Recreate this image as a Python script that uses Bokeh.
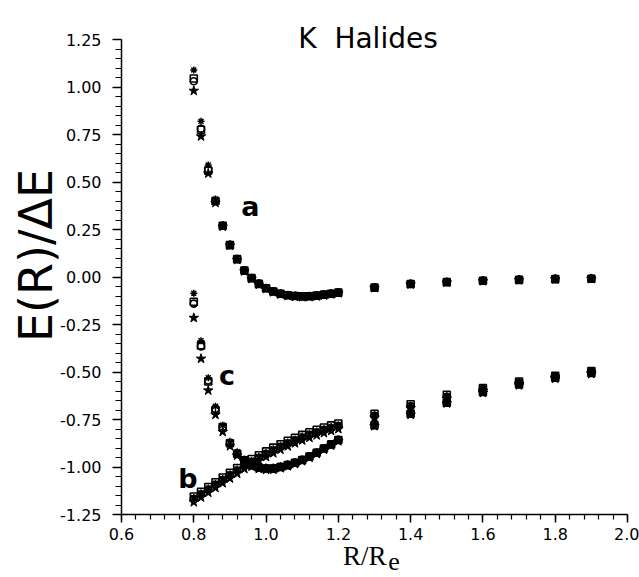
import math
from bokeh.plotting import figure
from bokeh.models import Range1d, FixedTicker, NumeralTickFormatter, Label
from bokeh.embed import file_html
from bokeh.resources import INLINE

# ---------------- data ----------------
x_dense = [0.80, 0.82, 0.84, 0.86, 0.88, 0.90, 0.92, 0.94, 0.96, 0.98, 1.00,
           1.02, 1.04, 1.06, 1.08, 1.10, 1.12, 1.14, 1.16, 1.18, 1.20]
x_far = [1.3, 1.4, 1.5, 1.6, 1.7, 1.8, 1.9]
x_all = x_dense + x_far

# curve a
a_ast = [1.09, 0.82, 0.59, 0.41, 0.275, 0.172, 0.098, 0.037, -0.003, -0.033, -0.056,
         -0.073, -0.085, -0.093, -0.097, -0.099, -0.098, -0.095, -0.090, -0.085, -0.079,
         -0.053, -0.034, -0.024, -0.017, -0.012, -0.009, -0.007]
a_sq = [1.045, 0.775, 0.56, 0.40, 0.27, 0.168, 0.094, 0.034, -0.006, -0.036, -0.059,
        -0.076, -0.088, -0.096, -0.100, -0.102, -0.101, -0.098, -0.093, -0.088, -0.082,
        -0.056, -0.037, -0.027, -0.020, -0.015, -0.011, -0.009]
a_ci = [1.03, 0.78, 0.565, 0.40, 0.27, 0.17, 0.095, 0.035, -0.005, -0.035, -0.058,
        -0.075, -0.087, -0.095, -0.099, -0.101, -0.100, -0.097, -0.092, -0.087, -0.081,
        -0.055, -0.036, -0.026, -0.019, -0.014, -0.010, -0.008]
a_st = [0.98, 0.74, 0.545, 0.39, 0.265, 0.165, 0.090, 0.030, -0.010, -0.040, -0.063,
        -0.080, -0.092, -0.100, -0.104, -0.106, -0.105, -0.102, -0.097, -0.091, -0.085,
        -0.058, -0.039, -0.029, -0.022, -0.016, -0.012, -0.010]

# curve c
c_ast = [-0.085, -0.335, -0.53, -0.68, -0.78, -0.865, -0.92, -0.958, -0.982, -0.995, -1.0,
         -1.0, -0.993, -0.983, -0.972, -0.958, -0.94, -0.92, -0.898, -0.876, -0.853,
         -0.77, -0.71, -0.655, -0.60, -0.56, -0.525, -0.50]
c_sq = [-0.13, -0.36, -0.55, -0.70, -0.79, -0.875, -0.93, -0.965, -0.99, -1.003, -1.008,
        -1.008, -1.0, -0.99, -0.978, -0.963, -0.945, -0.925, -0.903, -0.881, -0.858,
        -0.78, -0.72, -0.662, -0.605, -0.565, -0.53, -0.505]
c_ci = [-0.14, -0.365, -0.545, -0.695, -0.79, -0.875, -0.93, -0.965, -0.99, -1.002, -1.007,
        -1.007, -0.999, -0.989, -0.977, -0.962, -0.944, -0.924, -0.902, -0.880, -0.857,
        -0.775, -0.715, -0.66, -0.603, -0.563, -0.528, -0.503]
c_st = [-0.215, -0.43, -0.597, -0.725, -0.815, -0.89, -0.94, -0.975, -0.998, -1.01, -1.015,
        -1.014, -1.006, -0.996, -0.984, -0.969, -0.951, -0.931, -0.909, -0.887, -0.864,
        -0.785, -0.725, -0.665, -0.61, -0.57, -0.535, -0.51]

# curve b
b_sq = [-1.155, -1.13, -1.105, -1.08, -1.055, -1.03, -1.005, -0.98, -0.958, -0.938, -0.918,
        -0.898, -0.88, -0.862, -0.846, -0.831, -0.817, -0.804, -0.792, -0.781, -0.771,
        -0.72, -0.67, -0.62, -0.585, -0.55, -0.52, -0.495]
b_ast = [-1.16, -1.135, -1.11, -1.085, -1.06, -1.035, -1.01, -0.986, -0.964, -0.944, -0.924,
         -0.904, -0.886, -0.868, -0.852, -0.837, -0.823, -0.81, -0.798, -0.787, -0.777,
         -0.725, -0.675, -0.625, -0.588, -0.553, -0.522, -0.497]
b_ci = [-1.17, -1.145, -1.12, -1.095, -1.07, -1.045, -1.02, -0.996, -0.974, -0.953, -0.933,
        -0.913, -0.895, -0.877, -0.861, -0.846, -0.832, -0.819, -0.807, -0.796, -0.786,
        -0.73, -0.68, -0.63, -0.59, -0.555, -0.524, -0.499]
b_st = [-1.185, -1.16, -1.135, -1.11, -1.085, -1.06, -1.035, -1.01, -0.988, -0.967, -0.947,
        -0.927, -0.909, -0.891, -0.875, -0.86, -0.846, -0.833, -0.821, -0.81, -0.80,
        -0.74, -0.69, -0.64, -0.60, -0.562, -0.53, -0.505]

x_ticks = [0.6, 0.8, 1.0, 1.2, 1.4, 1.6, 1.8, 2.0]
y_ticks = [-1.25, -1.0, -0.75, -0.5, -0.25, 0.0, 0.25, 0.5, 0.75, 1.0, 1.25]

title_text = "K\u00a0 Halides"
curve_labels = ["a", "b", "c"]
x_label_main = "R/R"
x_label_sub = "e"
y_label = "E(R)/ΔE"

# ---------------- figure ----------------
W, H = 639, 577
# axis box in figure pixels: left 121, right 627, top 39, bottom 514
BL, BR, BT, BB = 121, 627, 39, 514
sx = (BR - BL) / (x_ticks[-1] - x_ticks[0])
sy = (BB - BT) / (y_ticks[-1] - y_ticks[0])
x0 = x_ticks[0] - BL / sx
x1 = x_ticks[-1] + (W - BR) / sx
y0 = y_ticks[0] - (H - BB) / sy
y1 = y_ticks[-1] + BT / sy

p = figure(width=W, height=H,
           x_range=Range1d(x0, x1), y_range=Range1d(y0, y1),
           output_backend="svg", toolbar_location=None,
           min_border_left=0, min_border_right=0,
           min_border_top=0, min_border_bottom=0)
p.xgrid.visible = False
p.ygrid.visible = False
p.outline_line_color = None
p.background_fill_color = "white"
p.border_fill_color = "white"

p.xaxis.fixed_location = y_ticks[0]
p.yaxis.fixed_location = x_ticks[0]
p.xaxis.bounds = (x_ticks[0], x_ticks[-1])
p.yaxis.bounds = (y_ticks[0], y_ticks[-1])

x_minor = [round(0.6 + 0.04 * i, 2) for i in range(36)]
y_minor = [round(-1.25 + 0.05 * i, 2) for i in range(51)]
p.xaxis.ticker = FixedTicker(ticks=x_ticks, minor_ticks=x_minor)
p.yaxis.ticker = FixedTicker(ticks=y_ticks, minor_ticks=y_minor)
p.xaxis.formatter = NumeralTickFormatter(format="0.0")
p.yaxis.formatter = NumeralTickFormatter(format="0.00")

for ax in (p.xaxis, p.yaxis):
    ax.axis_line_width = 1.5
    ax.axis_line_color = "black"
    ax.major_tick_line_width = 1.5
    ax.minor_tick_line_width = 1.2
    ax.major_tick_line_color = "black"
    ax.minor_tick_line_color = "black"
    ax.major_tick_in = 0
    ax.minor_tick_in = 0
    ax.major_label_text_font = "DejaVu Sans"
    ax.major_label_text_font_size = "16px"
    ax.major_label_text_color = "black"
p.xaxis.major_tick_out = 8
p.xaxis.minor_tick_out = 5
p.xaxis.major_label_standoff = 5
p.yaxis.major_tick_out = 9
p.yaxis.minor_tick_out = 6
p.yaxis.major_label_standoff = 11

# ---------------- markers ----------------
for ys in (a_ast, c_ast, b_ast):
    p.scatter(x_all, ys, marker="asterisk", size=7, line_color="black", line_width=1.5)
for ys in (a_sq, c_sq, b_sq):
    p.scatter(x_all, ys, marker="square", size=7, fill_color=None, line_color="black", line_width=1.6)
for ys in (a_ci, c_ci, b_ci):
    p.scatter(x_all, ys, marker="circle", size=7, fill_color=None, line_color="black", line_width=1.6)
for ys in (a_st, c_st, b_st):
    p.scatter(x_all, ys, marker="star", size=10, fill_color="black", line_color="black", line_width=1)

# ---------------- texts ----------------
p.add_layout(Label(x=1.282, y=1.2537, text=title_text, text_align="center",
                   text_baseline="alphabetic", text_font="DejaVu Sans",
                   text_font_size="28px", text_color="black"))

label_pos = [(0.9567, 0.371), (0.7839, -1.058), (0.8917, -0.521)]
for t, (lx, ly) in zip(curve_labels, label_pos):
    p.add_layout(Label(x=lx, y=ly, text=t, text_align="center", text_baseline="middle",
                       text_font="DejaVu Sans", text_font_style="bold",
                       text_font_size="27px", text_color="black"))

p.add_layout(Label(x=0.3622, y=0.113, text=y_label, angle=math.pi / 2,
                   text_align="center", text_baseline="middle",
                   text_font="DejaVu Sans", text_font_size="46px", text_color="black"))

# x-axis title: "R/R" with a lowered "e"
p.add_layout(Label(x=1.2732, y=(276.5 - 555) / sy, text=x_label_main, text_align="center",
                   text_baseline="alphabetic", text_font="Liberation Serif",
                   text_font_size="27px", text_color="black"))
p.add_layout(Label(x=1.338, y=(276.5 - 561) / sy, text=x_label_sub, text_align="left",
                   text_baseline="alphabetic", text_font="Liberation Serif",
                   text_font_size="26px", text_color="black"))

open("out.html", "w").write(file_html(p, INLINE))
